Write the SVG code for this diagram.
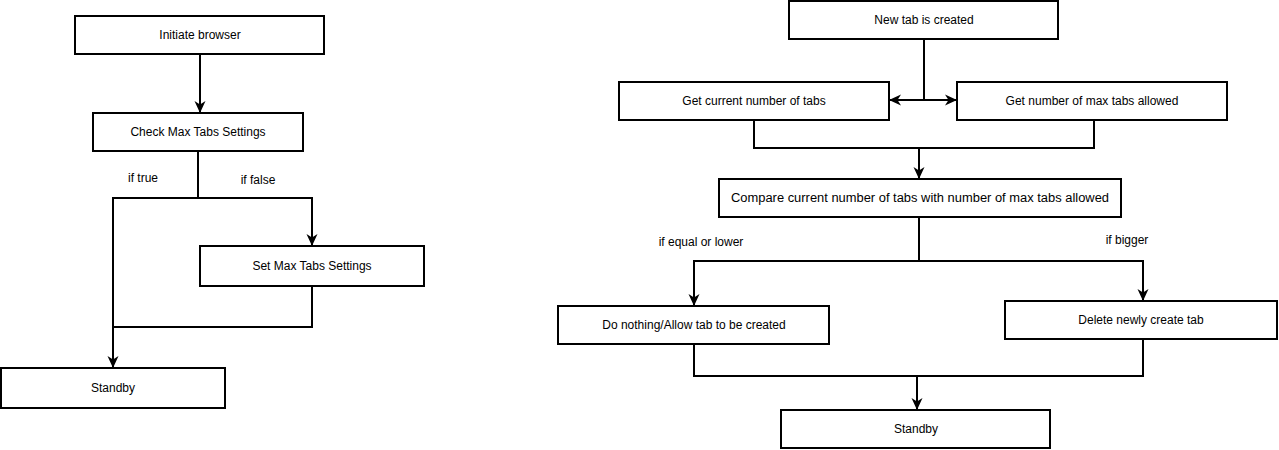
<svg xmlns="http://www.w3.org/2000/svg" width="1279" height="450" viewBox="0 0 1279 450">
<style>
.box{fill:#fff;stroke:#000;stroke-width:2}
.t{font-family:"Liberation Sans",Arial,sans-serif;font-size:12px;fill:#000;text-anchor:middle}
.c{fill:none;stroke:#000;stroke-width:2}
</style>
<defs>
<marker id="ar" viewBox="0 0 12 12" refX="12" refY="6" markerWidth="12" markerHeight="12" markerUnits="userSpaceOnUse" orient="auto">
<path d="M0,0.5 L12,6 L0,11.5 L3.5,6 z" fill="#000"/>
</marker>
</defs>
<rect width="1279" height="450" fill="#fff"/>
<g id="connectors">
<path class="c" d="M200,54 V113" marker-end="url(#ar)"/>
<path class="c" d="M198,151 V198 H113 V368" marker-end="url(#ar)"/>
<path class="c" d="M198,198 H312 V246" marker-end="url(#ar)"/>
<path class="c" d="M312,286 V327 H113"/>
<path class="c" d="M924,39 V100 H889" marker-end="url(#ar)"/>
<path class="c" d="M924,100 H957" marker-end="url(#ar)"/>
<path class="c" d="M754,120 V148 H1094 V120"/>
<path class="c" d="M919,148 V179" marker-end="url(#ar)"/>
<path class="c" d="M919,217 V261 H694 V306" marker-end="url(#ar)"/>
<path class="c" d="M919,261 H1143 V301" marker-end="url(#ar)"/>
<path class="c" d="M694,344 V376 H1143 V339"/>
<path class="c" d="M917,376 V410" marker-end="url(#ar)"/>
</g>
<g id="labels">
<text class="t" x="143" y="182">if true</text>
<text class="t" x="258" y="184">if false</text>
<text class="t" x="701" y="246">if equal or lower</text>
<text class="t" x="1127" y="244">if bigger</text>
</g>
<g id="initiate"><rect class="box" x="75" y="16" width="249" height="38"/><text class="t" x="200" y="39">Initiate browser</text></g>
<g id="check"><rect class="box" x="93" y="113" width="210" height="38"/><text class="t" x="198" y="136">Check Max Tabs Settings</text></g>
<g id="set"><rect class="box" x="200" y="246" width="224" height="40"/><text class="t" x="312" y="270">Set Max Tabs Settings</text></g>
<g id="standby1"><rect class="box" x="1" y="368" width="224" height="40"/><text class="t" x="113" y="392">Standby</text></g>
<g id="newtab"><rect class="box" x="789" y="1" width="269" height="38"/><text class="t" x="924" y="24">New tab is created</text></g>
<g id="getcurrent"><rect class="box" x="619" y="82" width="270" height="38"/><text class="t" x="754" y="105">Get current number of tabs</text></g>
<g id="getmax"><rect class="box" x="957" y="82" width="270" height="38"/><text class="t" x="1092" y="105">Get number of max tabs allowed</text></g>
<g id="compare"><rect class="box" x="719" y="179" width="402" height="38"/><text class="t" x="920" y="202" textLength="378" lengthAdjust="spacingAndGlyphs">Compare current number of tabs with number of max tabs allowed</text></g>
<g id="donothing"><rect class="box" x="558" y="306" width="271" height="38"/><text class="t" x="694" y="329">Do nothing/Allow tab to be created</text></g>
<g id="delete"><rect class="box" x="1005" y="301" width="272" height="38"/><text class="t" x="1141" y="324">Delete newly create tab</text></g>
<g id="standby2"><rect class="box" x="781" y="410" width="269" height="38"/><text class="t" x="916" y="433">Standby</text></g>
</svg>
